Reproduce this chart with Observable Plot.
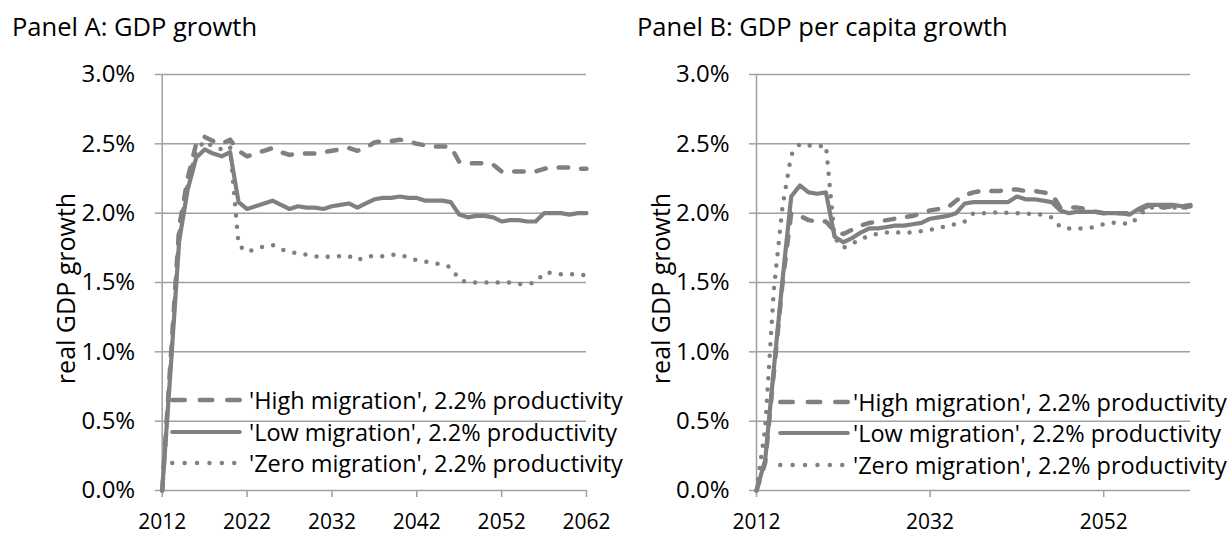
<!DOCTYPE html>
<html>
<head>
<meta charset="utf-8">
<script src="https://cdn.jsdelivr.net/npm/d3@7"></script>
<script src="https://cdn.jsdelivr.net/npm/@observablehq/plot@0.6"></script>
<style>
  body { margin: 0; background: #fff; font-family: "Open Sans", sans-serif; }
  #root { position: relative; width: 1231px; height: 534px; overflow: hidden; background: #fff; }
  .title { position: absolute; font-size: 25.5px; line-height: 1; color: #000; white-space: nowrap; }
  .panel { position: absolute; top: 50px; }
  .lrow { position: absolute; display: flex; align-items: center; height: 30px; font-size: 23.5px; white-space: nowrap; color: #000; }
  .lrow svg { display: block; flex: none; }
</style>
</head>
<body>
<div id="root"></div>
<script>
// ---------- data ----------
const years = [2012,2013,2014,2015,2016,2017,2018,2019,2020,2021,
               2022,2023,2024,2025,2026,2027,2028,2029,2030,2031,
               2032,2033,2034,2035,2036,2037,2038,2039,2040,2041,
               2042,2043,2044,2045,2046,2047,2048,2049,2050,2051,
               2052,2053,2054,2055,2056,2057,2058,2059,2060,2061,
               2062];

const seriesNames = [
  "'High migration', 2.2% productivity",
  "'Low migration', 2.2% productivity",
  "'Zero migration', 2.2% productivity"
];

// Panel A: GDP growth (%)
const gdpHigh = [0,0.95,1.90,2.25,2.50,2.55,2.52,2.50,2.53,2.45,
                 2.41,2.43,2.45,2.47,2.44,2.42,2.43,2.43,2.43,2.44,
                 2.45,2.46,2.47,2.45,2.47,2.51,2.52,2.52,2.53,2.52,
                 2.50,2.49,2.48,2.48,2.48,2.37,2.36,2.36,2.36,2.35,
                 2.30,2.30,2.30,2.30,2.30,2.32,2.33,2.33,2.33,2.32,
                 2.32];
const gdpLow  = [0,0.88,1.80,2.17,2.40,2.46,2.43,2.41,2.44,2.08,
                 2.03,2.05,2.07,2.09,2.06,2.03,2.05,2.04,2.04,2.03,
                 2.05,2.06,2.07,2.04,2.07,2.10,2.11,2.11,2.12,2.11,
                 2.11,2.09,2.09,2.09,2.08,1.99,1.97,1.98,1.98,1.97,
                 1.94,1.95,1.95,1.94,1.94,2.00,2.00,2.00,1.99,2.00,
                 2.00];
const gdpZero = [0,0.90,1.85,2.20,2.45,2.52,2.48,2.46,2.48,1.77,
                 1.72,1.74,1.76,1.77,1.74,1.72,1.71,1.70,1.69,1.68,
                 1.69,1.69,1.69,1.66,1.69,1.69,1.69,1.70,1.70,1.68,
                 1.66,1.65,1.64,1.63,1.61,1.52,1.50,1.50,1.50,1.50,
                 1.50,1.50,1.49,1.49,1.50,1.57,1.57,1.56,1.56,1.56,
                 1.55];

// Panel B: GDP per capita growth (%)
const pcHigh = [0,0.20,0.85,1.50,2.00,1.98,1.95,1.94,1.94,1.87,
                1.85,1.88,1.91,1.93,1.94,1.95,1.96,1.97,1.98,2.00,
                2.02,2.03,2.04,2.09,2.13,2.15,2.16,2.16,2.16,2.17,
                2.17,2.16,2.16,2.15,2.14,2.04,2.04,2.04,2.03,2.01,
                2.00,2.00,2.00,2.00,2.02,2.05,2.05,2.04,2.05,2.04,
                2.05];
const pcLow  = [0,0.22,0.88,1.52,2.12,2.20,2.15,2.14,2.15,1.83,
                1.79,1.82,1.86,1.89,1.89,1.90,1.91,1.91,1.92,1.93,
                1.96,1.97,1.98,2.00,2.07,2.08,2.08,2.08,2.08,2.08,
                2.12,2.10,2.10,2.09,2.08,2.02,2.00,2.01,2.01,2.01,
                2.00,2.00,2.00,1.99,2.03,2.06,2.06,2.06,2.06,2.05,
                2.06];
const pcZero = [0,0.45,1.45,2.05,2.42,2.50,2.49,2.48,2.49,1.82,
                1.75,1.78,1.81,1.84,1.85,1.86,1.86,1.86,1.86,1.87,
                1.88,1.89,1.91,1.92,1.94,2.00,2.00,2.00,2.01,2.00,
                2.00,2.00,1.99,1.99,1.97,1.90,1.89,1.89,1.89,1.90,
                1.92,1.93,1.93,1.92,1.97,2.04,2.04,2.04,2.04,2.04,
                2.04];

const yTicks = [0, 0.5, 1.0, 1.5, 2.0, 2.5, 3.0];
const xTicksA = [2012, 2022, 2032, 2042, 2052, 2062];
const xTicksB = [2012, 2032, 2052];
const panelTitles = ["Panel A: GDP growth", "Panel B: GDP per capita growth"];
const yTitle = "real GDP growth";

// ---------- styles ----------
const LINE = "#808080";
const GRID = "#a0a0a0";
const styles = [
  {dash: "9.5 13", width: 4.5},   // high: dashed
  {dash: null, width: 4.2},       // low: solid
  {dash: "0 11.3", width: 4.5}    // zero: dotted
];
const legendDash = ["12.5 15", null, "0 12.4"];

function toRows(vals) { return years.map((y, i) => ({year: y, v: vals[i]})); }

function makePanel(seriesVals, xTicks, opts) {
  const lines = seriesVals.map((vals, i) => Plot.line(toRows(vals), {
    x: "year", y: "v", stroke: LINE, strokeWidth: styles[i].width,
    strokeDasharray: styles[i].dash, strokeLinecap: "round", strokeLinejoin: "round"
  }));
  return Plot.plot({
    width: opts.width, height: 484,
    marginLeft: opts.ml, marginRight: opts.mr, marginTop: 24, marginBottom: 44,
    x: {domain: [2012, 2062]},
    y: {domain: [0, 3]},
    style: {fontFamily: '"Open Sans", sans-serif', fontSize: "21px", color: "#000", background: "transparent", overflow: "visible"},
    marks: [
      Plot.ruleY(yTicks, {stroke: GRID, strokeWidth: 1.5}),
      Plot.ruleX([2012], {stroke: GRID, strokeWidth: 1.5}),
      Plot.axisY(yTicks, {tickSize: 7, tickPadding: 20, stroke: GRID, strokeWidth: 1.5, fill: "#000",
        fontSize: 24, tickFormat: d => d.toFixed(1) + "%", label: null}),
      Plot.axisX(xTicks, {tickSize: 7, tickPadding: 17, stroke: GRID, strokeWidth: 1.5, fill: "#000",
        fontSize: 21, tickFormat: d => String(d), label: null}),
      Plot.text([yTitle], {frameAnchor: "left", textAnchor: "middle", dx: -95, dy: 6, rotate: -90, fontSize: 25, fill: "#000"}),
      ...lines
    ]
  });
}

const root = document.getElementById("root");

function addTitle(text, left) {
  const t = document.createElement("div");
  t.className = "title";
  t.style.left = left + "px";
  t.style.top = "14px";
  t.textContent = text;
  root.appendChild(t);
}

function addLegend(left, tops, textGap) {
  seriesNames.forEach((name, i) => {
    const row = document.createElement("div");
    row.className = "lrow";
    row.style.left = left + "px";
    row.style.top = (tops[i] - 15) + "px";
    const svgNS = "http://www.w3.org/2000/svg";
    const svg = document.createElementNS(svgNS, "svg");
    svg.setAttribute("width", 72); svg.setAttribute("height", 12);
    const ln = document.createElementNS(svgNS, "line");
    ln.setAttribute("x1", 2.25); ln.setAttribute("x2", 69.75);
    ln.setAttribute("y1", 6); ln.setAttribute("y2", 6);
    ln.setAttribute("stroke", LINE);
    ln.setAttribute("stroke-width", styles[i].width);
    ln.setAttribute("stroke-linecap", "round");
    if (legendDash[i]) ln.setAttribute("stroke-dasharray", legendDash[i]);
    svg.appendChild(ln);
    row.appendChild(svg);
    const sp = document.createElement("span");
    sp.style.marginLeft = textGap + "px";
    sp.textContent = name;
    row.appendChild(sp);
    root.appendChild(row);
  });
}

addTitle(panelTitles[0], 12);
addTitle(panelTitles[1], 637);

const pA = makePanel([gdpHigh, gdpLow, gdpZero], xTicksA, {width: 615, ml: 161.7, mr: 29});
const dA = document.createElement("div"); dA.className = "panel"; dA.style.left = "0px";
dA.appendChild(pA); root.appendChild(dA);

const pB = makePanel([pcHigh, pcLow, pcZero], xTicksB, {width: 616, ml: 141, mr: 41});
const dB = document.createElement("div"); dB.className = "panel"; dB.style.left = "615px";
dB.appendChild(pB); root.appendChild(dB);

addLegend(170, [400, 431.7, 463], 7);
addLegend(778, [401.7, 433, 465], 3);
</script>
</body>
</html>
